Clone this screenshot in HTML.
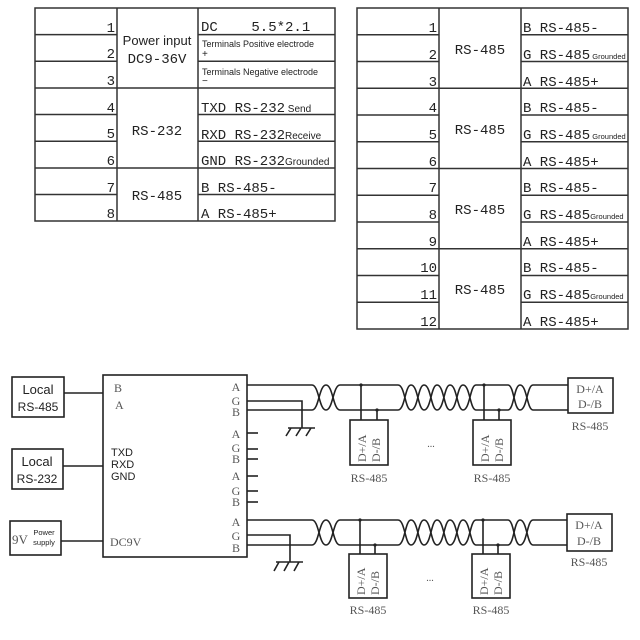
<!DOCTYPE html>
<html><head><meta charset="utf-8"><style>
html,body{margin:0;padding:0;background:#fff;width:640px;height:640px;overflow:hidden}
svg{display:block}
.m{font-family:"Liberation Mono","Noto Sans CJK SC",monospace;font-size:14px;fill:#222}
.s{font-family:"Liberation Sans","Noto Sans CJK SC",sans-serif;fill:#222}
.r{font-family:"Liberation Serif",serif;fill:#555}
.ln{stroke:#222;stroke-width:1.6;fill:none}
.tb{stroke:#333;stroke-width:1.5;fill:none}
</style></head><body>
<svg width="640" height="640" viewBox="0 0 640 640" xmlns="http://www.w3.org/2000/svg">
<!-- Left table -->
<rect class="tb" x="35" y="8" width="300" height="213"/>
<line class="tb" x1="117" y1="8" x2="117" y2="221"/>
<line class="tb" x1="198" y1="8" x2="198" y2="221"/>
<g class="tb">
<line x1="35" y1="34.6" x2="117" y2="34.6"/><line x1="198" y1="34.6" x2="335" y2="34.6"/>
<line x1="35" y1="61.2" x2="117" y2="61.2"/><line x1="198" y1="61.2" x2="335" y2="61.2"/>
<line x1="35" y1="88" x2="335" y2="88"/>
<line x1="35" y1="114.5" x2="117" y2="114.5"/><line x1="198" y1="114.5" x2="335" y2="114.5"/>
<line x1="35" y1="141.2" x2="117" y2="141.2"/><line x1="198" y1="141.2" x2="335" y2="141.2"/>
<line x1="35" y1="168" x2="335" y2="168"/>
<line x1="35" y1="194.5" x2="117" y2="194.5"/><line x1="198" y1="194.5" x2="335" y2="194.5"/>
</g>
<g class="m" text-anchor="end">
<text x="115" y="32">1</text><text x="115" y="58">2</text><text x="115" y="85">3</text>
<text x="115" y="112">4</text><text x="115" y="138">5</text><text x="115" y="165">6</text>
<text x="115" y="192">7</text><text x="115" y="218">8</text>
</g>
<text class="s" x="157" y="45" font-size="13" text-anchor="middle">Power input</text>
<text class="m" x="157" y="63" text-anchor="middle">DC9-36V</text>
<text class="m" x="157" y="135" text-anchor="middle">RS-232</text>
<text class="m" x="157" y="200" text-anchor="middle">RS-485</text>
<text class="m" x="201" y="31">DC&#160;&#160;&#160;&#160;5.5*2.1</text>
<text class="s" x="202" y="47" font-size="9">Terminals Positive electrode</text>
<text class="s" x="202" y="57" font-size="10">+</text>
<text class="s" x="202" y="75" font-size="9">Terminals Negative electrode</text>
<text class="s" x="202" y="84" font-size="10">−</text>
<text class="m" x="201" y="112">TXD RS-232<tspan class="s" font-size="10"> Send</tspan></text>
<text class="m" x="201" y="139">RXD RS-232<tspan class="s" font-size="10">Receive</tspan></text>
<text class="m" x="201" y="165">GND RS-232<tspan class="s" font-size="10">Grounded</tspan></text>
<text class="m" x="201" y="192">B RS-485-</text>
<text class="m" x="201" y="218">A RS-485+</text>

<!-- Right table -->
<rect class="tb" x="357" y="8" width="271" height="321"/>
<line class="tb" x1="439" y1="8" x2="439" y2="329"/>
<line class="tb" x1="521" y1="8" x2="521" y2="329"/>
<g class="tb">
<line x1="357" y1="34.7" x2="439" y2="34.7"/><line x1="521" y1="34.7" x2="628" y2="34.7"/>
<line x1="357" y1="61.5" x2="439" y2="61.5"/><line x1="521" y1="61.5" x2="628" y2="61.5"/>
<line x1="357" y1="88.2" x2="628" y2="88.2"/>
<line x1="357" y1="115" x2="439" y2="115"/><line x1="521" y1="115" x2="628" y2="115"/>
<line x1="357" y1="141.7" x2="439" y2="141.7"/><line x1="521" y1="141.7" x2="628" y2="141.7"/>
<line x1="357" y1="168.5" x2="628" y2="168.5"/>
<line x1="357" y1="195.2" x2="439" y2="195.2"/><line x1="521" y1="195.2" x2="628" y2="195.2"/>
<line x1="357" y1="222" x2="439" y2="222"/><line x1="521" y1="222" x2="628" y2="222"/>
<line x1="357" y1="248.7" x2="628" y2="248.7"/>
<line x1="357" y1="275.5" x2="439" y2="275.5"/><line x1="521" y1="275.5" x2="628" y2="275.5"/>
<line x1="357" y1="302.2" x2="439" y2="302.2"/><line x1="521" y1="302.2" x2="628" y2="302.2"/>
</g>
<g class="m" text-anchor="end">
<text x="437" y="32">1</text><text x="437" y="59">2</text><text x="437" y="86">3</text>
<text x="437" y="112">4</text><text x="437" y="139">5</text><text x="437" y="166">6</text>
<text x="437" y="192">7</text><text x="437" y="219">8</text><text x="437" y="246">9</text>
<text x="437" y="272">10</text><text x="437" y="299">11</text><text x="437" y="326">12</text>
</g>
<g class="m" text-anchor="middle">
<text x="480" y="54">RS-485</text><text x="480" y="134">RS-485</text>
<text x="480" y="214">RS-485</text><text x="480" y="294">RS-485</text>
</g>
<g class="m">
<text x="523" y="32">B RS-485-</text><text x="523" y="59">G RS-485<tspan class="s" font-size="7.5"> Grounded</tspan></text><text x="523" y="86">A RS-485+</text>
<text x="523" y="112">B RS-485-</text><text x="523" y="139">G RS-485<tspan class="s" font-size="7.5"> Grounded</tspan></text><text x="523" y="166">A RS-485+</text>
<text x="523" y="192">B RS-485-</text><text x="523" y="219">G RS-485<tspan class="s" font-size="7.5">Grounded</tspan></text><text x="523" y="246">A RS-485+</text>
<text x="523" y="272">B RS-485-</text><text x="523" y="299">G RS-485<tspan class="s" font-size="7.5">Grounded</tspan></text><text x="523" y="326">A RS-485+</text>
</g>

<!-- Diagram left -->
<rect class="ln" x="12" y="377" width="52" height="40"/>
<text class="s" x="38" y="394" font-size="13" text-anchor="middle">Local</text>
<text class="s" x="38" y="411" font-size="12" text-anchor="middle">RS-485</text>
<rect class="ln" x="12" y="449" width="51" height="40"/>
<text class="s" x="37" y="466" font-size="13" text-anchor="middle">Local</text>
<text class="s" x="37" y="483" font-size="12" text-anchor="middle">RS-232</text>
<rect class="ln" x="10" y="521" width="51" height="34"/>
<text class="r" x="12" y="544" font-size="13">9V</text>
<text class="s" x="44" y="535" font-size="7.5" text-anchor="middle">Power</text>
<text class="s" x="44" y="545" font-size="7.5" text-anchor="middle">supply</text>
<line class="ln" x1="64" y1="393" x2="103" y2="393"/>
<line class="ln" x1="63" y1="466" x2="103" y2="466"/>
<line class="ln" x1="61" y1="541" x2="103" y2="541"/>
<rect class="ln" x="103" y="375" width="144" height="182"/>
<text class="r" x="114" y="392" font-size="12">B</text>
<text class="r" x="115" y="409" font-size="12">A</text>
<text class="s" x="111" y="456" font-size="11">TXD</text>
<text class="s" x="111" y="468" font-size="11">RXD</text>
<text class="s" x="111" y="480" font-size="11">GND</text>
<text class="r" x="110" y="546" font-size="12">DC9V</text>
<g class="r" font-size="12" text-anchor="middle">
<text x="236" y="391">A</text><text x="236" y="405">G</text><text x="236" y="416">B</text>
<text x="236" y="438">A</text><text x="236" y="452">G</text><text x="236" y="463">B</text>
<text x="236" y="480">A</text><text x="236" y="495">G</text><text x="236" y="506">B</text>
<text x="236" y="526">A</text><text x="236" y="540">G</text><text x="236" y="552">B</text>
</g>
<g class="ln">
<line x1="247" y1="433" x2="258" y2="433"/><line x1="247" y1="449" x2="258" y2="449"/><line x1="247" y1="459" x2="258" y2="459"/>
<line x1="247" y1="476" x2="258" y2="476"/><line x1="247" y1="491" x2="258" y2="491"/><line x1="247" y1="502" x2="258" y2="502"/>
</g>

<!-- Top bus -->
<g class="ln">
<path d="M247 385 H312 C319 385 319 410 326 410 C333 410 333 385 340 385 H345 C352 385 352 385 360 385 H390 C395 385 395 385 398 385 C405 385 405 410 411 410 C418 410 418 385 424 385 C431 385 431 410 437 410 C444 410 444 385 450 385 C457 385 457 410 463 410 C470 410 470 385 476 385 H508 C514 385 514 410 520 410 C527 410 527 385 533 385 H568"/>
<path d="M247 410 H312 C319 410 319 385 326 385 C333 385 333 410 340 410 H398 C405 410 405 385 411 385 C418 385 418 410 424 410 C431 410 431 385 437 385 C444 385 444 410 450 410 C457 410 457 385 463 385 C470 385 470 410 476 410 H508 C514 410 514 385 520 385 C527 385 527 410 533 410 H568"/>
<path d="M247 401 H302 V428"/>
<path d="M288 428 H315 M291 428 L286 436 M301 428 L296 436 M311 428 L306 436"/>
<path d="M361 385 V420 M377 410 V420 M484 385 V420 M499 410 V420"/>
</g>
<circle cx="361" cy="385" r="1.6" fill="#222"/><circle cx="377" cy="410" r="1.6" fill="#222"/>
<circle cx="484" cy="385" r="1.6" fill="#222"/><circle cx="499" cy="410" r="1.6" fill="#222"/>
<rect class="ln" x="350" y="420" width="38" height="45"/>
<rect class="ln" x="473" y="420" width="38" height="45"/>
<g class="r" font-size="12">
<text transform="translate(366,462) rotate(-90)">D+/A</text>
<text transform="translate(380,462) rotate(-90)">D-/B</text>
<text transform="translate(489,462) rotate(-90)">D+/A</text>
<text transform="translate(503,462) rotate(-90)">D-/B</text>
</g>
<text class="r" x="369" y="482" font-size="12" text-anchor="middle">RS-485</text>
<text class="r" x="492" y="482" font-size="12" text-anchor="middle">RS-485</text>
<text class="r" x="431" y="447" font-size="10" text-anchor="middle">...</text>
<rect class="ln" x="568" y="378" width="45" height="35"/>
<text class="r" x="590" y="393" font-size="12" text-anchor="middle">D+/A</text>
<text class="r" x="590" y="408" font-size="12" text-anchor="middle">D-/B</text>
<text class="r" x="590" y="430" font-size="12" text-anchor="middle">RS-485</text>

<!-- Bottom bus -->
<g class="ln">
<path d="M247 520 H312 C319 520 319 545 326 545 C333 545 333 520 340 520 H398 C405 520 405 545 411 545 C418 545 418 520 424 520 C431 520 431 545 437 545 C444 545 444 520 450 520 C457 520 457 545 463 545 C470 545 470 520 476 520 H508 C514 520 514 545 520 545 C527 545 527 520 533 520 H567"/>
<path d="M247 545 H312 C319 545 319 520 326 520 C333 520 333 545 340 545 H398 C405 545 405 520 411 520 C418 520 418 545 424 545 C431 545 431 520 437 520 C444 520 444 545 450 545 C457 545 457 520 463 520 C470 520 470 545 476 545 H508 C514 545 514 520 520 520 C527 520 527 545 533 545 H567"/>
<path d="M247 535 H290 V562"/>
<path d="M276 562 H303 M279 562 L274 571 M289 562 L284 571 M299 562 L294 571"/>
<path d="M360 520 V554 M375 545 V554 M483 520 V554 M498 545 V554"/>
</g>
<circle cx="360" cy="520" r="1.6" fill="#222"/><circle cx="375" cy="545" r="1.6" fill="#222"/>
<circle cx="483" cy="520" r="1.6" fill="#222"/><circle cx="498" cy="545" r="1.6" fill="#222"/>
<rect class="ln" x="349" y="554" width="38" height="44"/>
<rect class="ln" x="472" y="554" width="38" height="44"/>
<g class="r" font-size="12">
<text transform="translate(365,595) rotate(-90)">D+/A</text>
<text transform="translate(379,595) rotate(-90)">D-/B</text>
<text transform="translate(488,595) rotate(-90)">D+/A</text>
<text transform="translate(502,595) rotate(-90)">D-/B</text>
</g>
<text class="r" x="368" y="614" font-size="12" text-anchor="middle">RS-485</text>
<text class="r" x="491" y="614" font-size="12" text-anchor="middle">RS-485</text>
<text class="r" x="430" y="581" font-size="10" text-anchor="middle">...</text>
<rect class="ln" x="567" y="514" width="45" height="37"/>
<text class="r" x="589" y="529" font-size="12" text-anchor="middle">D+/A</text>
<text class="r" x="589" y="545" font-size="12" text-anchor="middle">D-/B</text>
<text class="r" x="589" y="566" font-size="12" text-anchor="middle">RS-485</text>
</svg>
</body></html>
